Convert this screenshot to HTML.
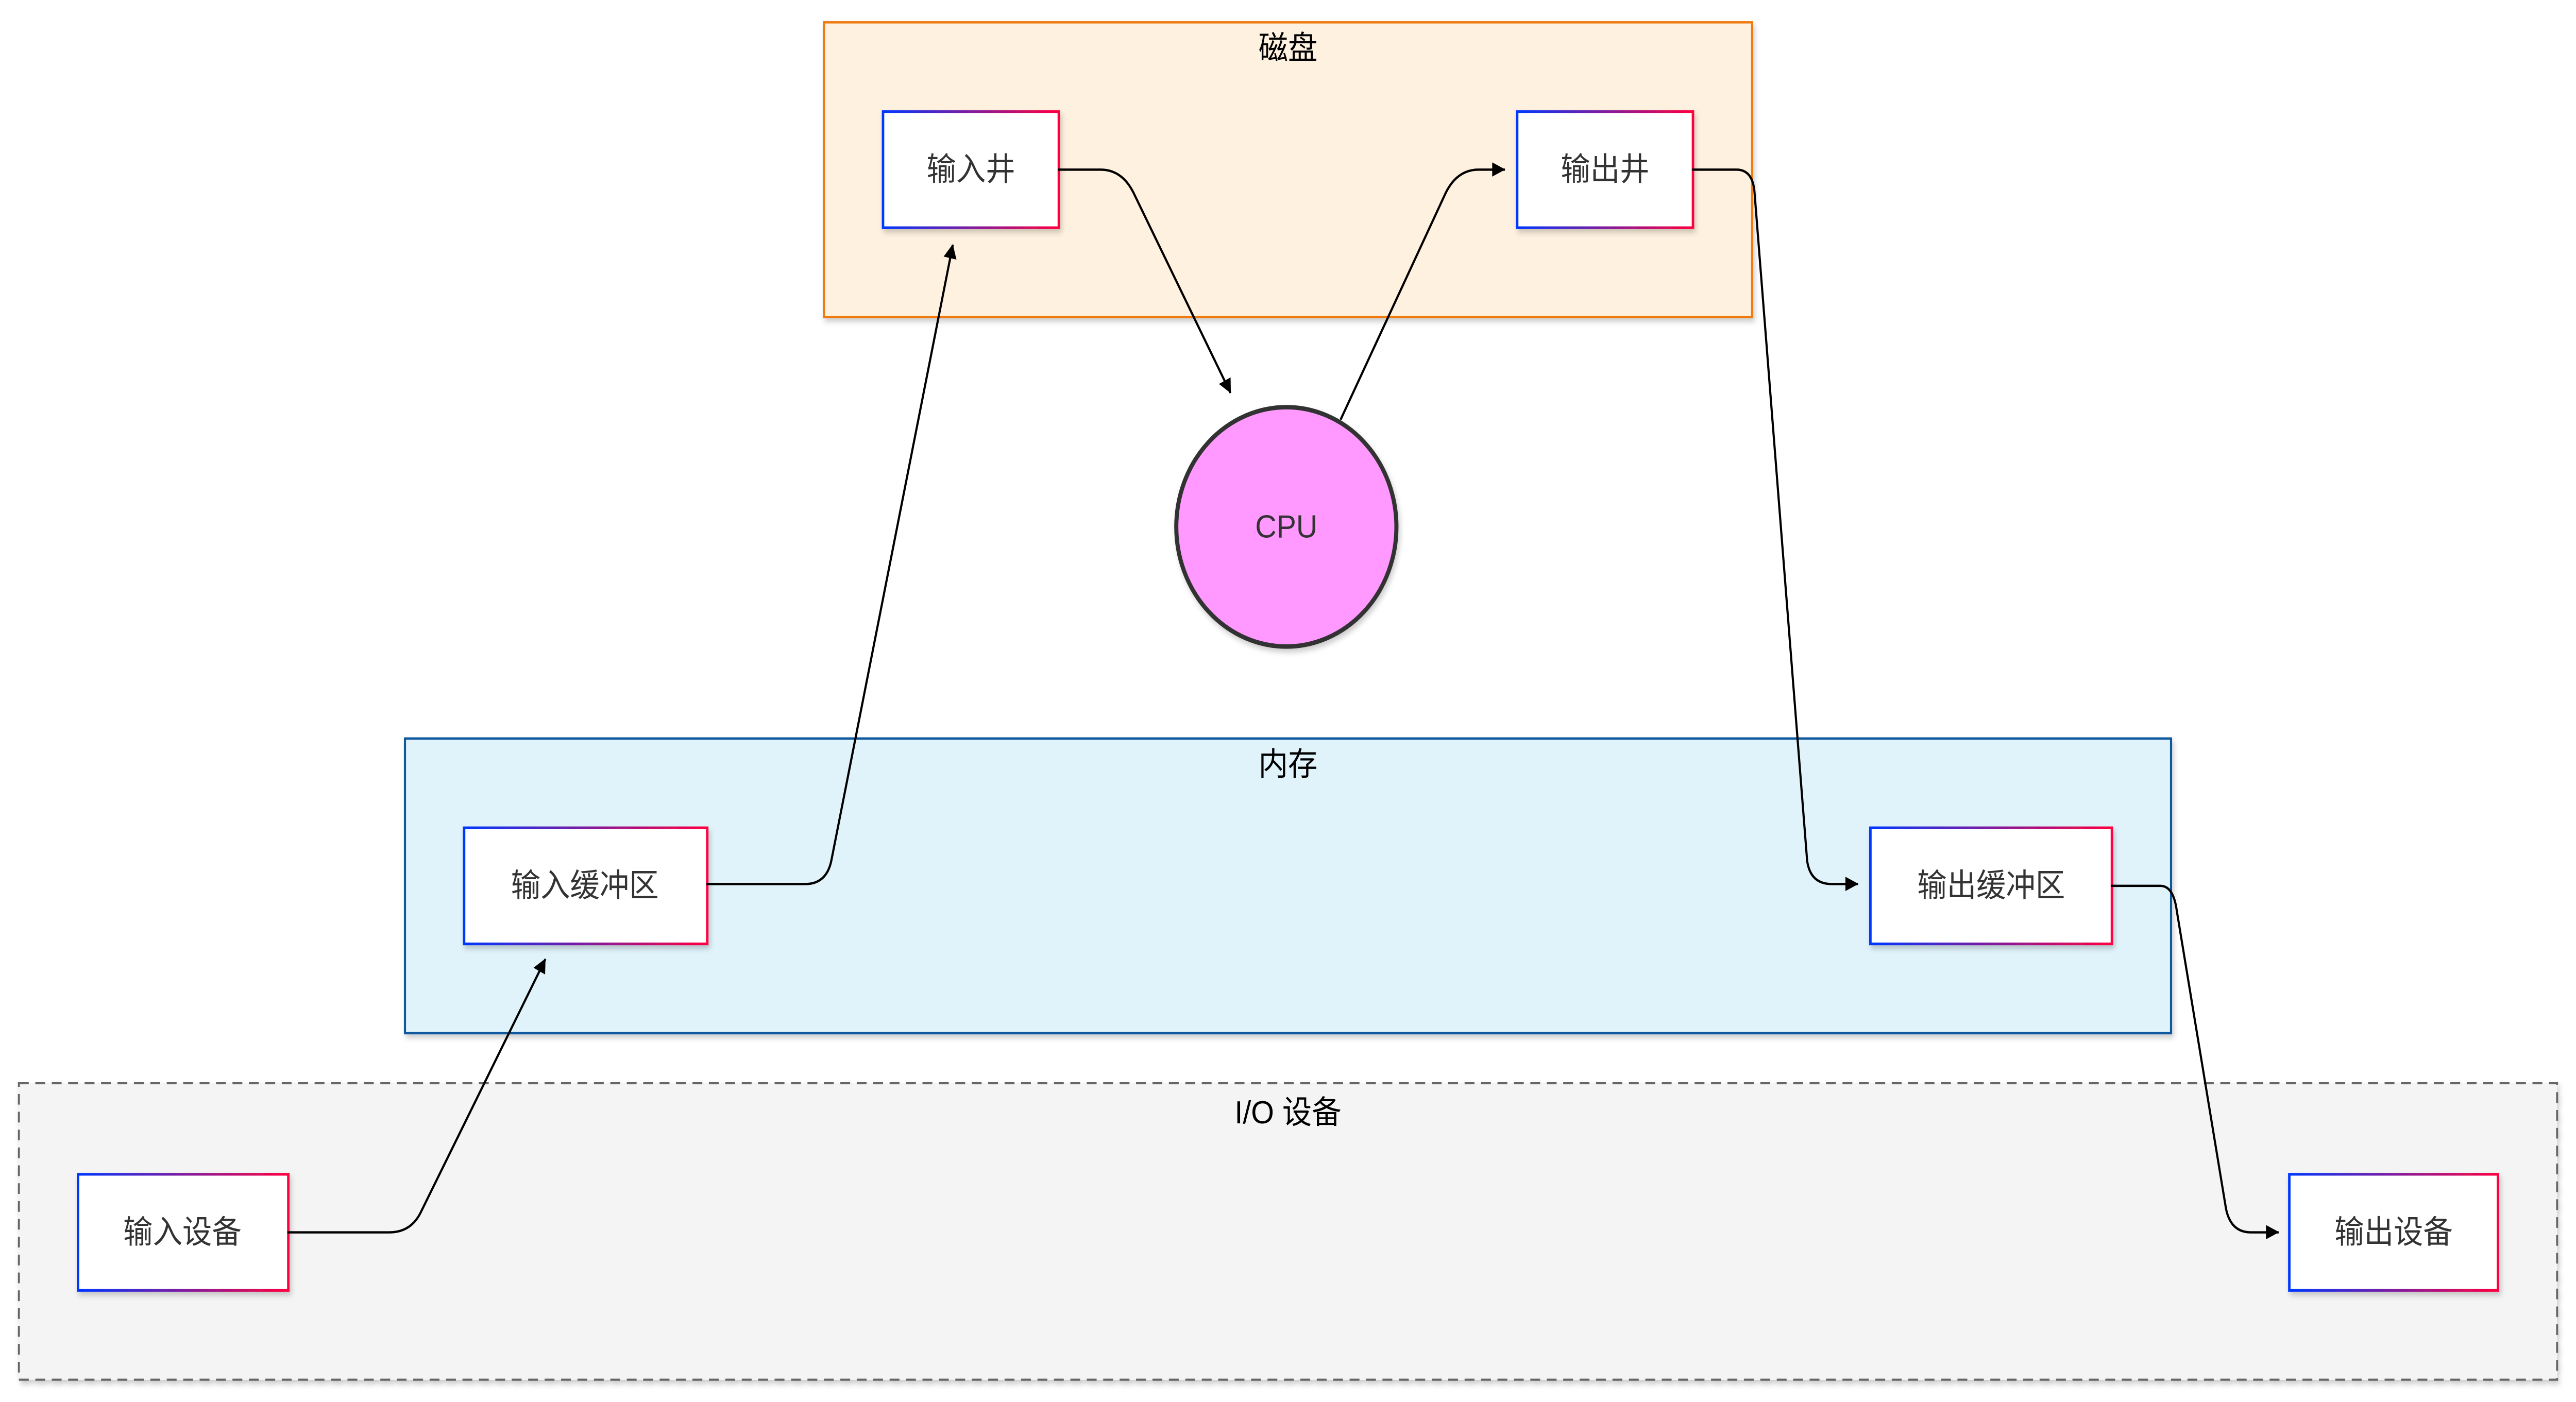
<!DOCTYPE html>
<html><head><meta charset="utf-8"><style>
html,body{margin:0;padding:0;background:#fff;width:100%;height:100%;overflow:hidden;}
svg{display:block;position:absolute;left:0;top:0;width:100vw;height:100vh;}
text{font-family:"Liberation Sans","Noto Sans CJK SC",sans-serif;}
</style></head><body>
<svg viewBox="0 0 1568 785" preserveAspectRatio="none" xmlns="http://www.w3.org/2000/svg">
<defs>
<linearGradient id="g" x1="0" y1="0" x2="1" y2="0">
<stop offset="0" stop-color="#0037ff"/><stop offset="1" stop-color="#ff0040"/>
</linearGradient>
<marker id="a" viewBox="0 0 10 10" refX="9" refY="5" markerWidth="5" markerHeight="5" markerUnits="userSpaceOnUse" orient="auto" style="overflow:visible">
<path d="M0,0 L10,5 L0,10 z" fill="#000" transform="scale(1.6) translate(-4,-2)"/>
</marker>
<filter id="s" x="-10%" y="-10%" width="130%" height="130%"><feDropShadow dx="1" dy="2" stdDeviation="1.5" flood-opacity="0.2"/></filter>
</defs>
<rect x="501.5" y="12.5" width="565" height="165" fill="#fff1df" stroke="#f07a10" stroke-width="1.3" filter="url(#s)"/>
<text x="784" y="33" font-size="18" text-anchor="middle" fill="#000">磁盘</text>
<rect x="246.5" y="413.5" width="1075" height="165" fill="#e0f3fb" stroke="#10589e" stroke-width="1.3" filter="url(#s)"/>
<text x="784" y="434" font-size="18" text-anchor="middle" fill="#000">内存</text>
<rect x="11.5" y="606.5" width="1545" height="166" fill="#f4f4f4" stroke="#666" stroke-width="1.2" stroke-dasharray="6 4" filter="url(#s)"/>
<text x="784" y="629" font-size="18" text-anchor="middle" fill="#000">I/O 设备</text>
<g font-size="18" fill="#333" text-anchor="middle">
<rect x="537.5" y="62.5" width="107" height="65" fill="#fff" stroke="url(#g)" stroke-width="1.5" filter="url(#s)"/>
<text x="591" y="101">输入井</text>
<rect x="923.5" y="62.5" width="107" height="65" fill="#fff" stroke="url(#g)" stroke-width="1.5" filter="url(#s)"/>
<text x="977" y="101">输出井</text>
<rect x="282.5" y="463.5" width="148" height="65" fill="#fff" stroke="url(#g)" stroke-width="1.5" filter="url(#s)"/>
<text x="356" y="502">输入缓冲区</text>
<rect x="1138.5" y="463.5" width="147" height="65" fill="#fff" stroke="url(#g)" stroke-width="1.5" filter="url(#s)"/>
<text x="1212" y="502">输出缓冲区</text>
<rect x="47.5" y="657.5" width="128" height="65" fill="#fff" stroke="url(#g)" stroke-width="1.5" filter="url(#s)"/>
<text x="111" y="696">输入设备</text>
<rect x="1393.5" y="657.5" width="127" height="65" fill="#fff" stroke="url(#g)" stroke-width="1.5" filter="url(#s)"/>
<text x="1457" y="696">输出设备</text>
</g>
<ellipse cx="783" cy="295" rx="67" ry="67" fill="#ff99ff" stroke="#333" stroke-width="2.5" filter="url(#s)"/>
<text x="783" y="301" font-size="18" text-anchor="middle" fill="#333">CPU</text>
<g fill="none" stroke="#000" stroke-width="1.3">
<path d="M175 690 L237 690 Q250 690 256 679 L332 537" marker-end="url(#a)"/>
<path d="M430 495 L490 495 Q503 495 506 482 L580 137" marker-end="url(#a)"/>
<path d="M644 95 L670 95 Q683 95 690 108 L749 220" marker-end="url(#a)"/>
<path d="M816 235 L880 108 Q887 95 900 95 L916 95" marker-end="url(#a)"/>
<path d="M1030 95 L1057 95 Q1067 95 1068 108 L1100 482 Q1102 495 1115 495 L1131 495" marker-end="url(#a)"/>
<path d="M1285 496 L1315 496 Q1323 496 1325 510 L1355 677 Q1358 690 1370 690 L1387 690" marker-end="url(#a)"/>
</g>
</svg>
</body></html>
